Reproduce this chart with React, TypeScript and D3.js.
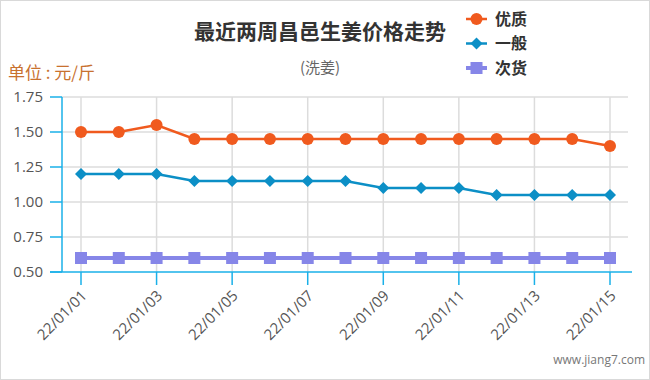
import React, { useEffect, useRef } from "react";
import * as d3 from "d3";

const dates = ["22/01/01","22/01/02","22/01/03","22/01/04","22/01/05","22/01/06","22/01/07","22/01/08","22/01/09","22/01/10","22/01/11","22/01/12","22/01/13","22/01/14","22/01/15"];
const premium = [1.50,1.50,1.55,1.45,1.45,1.45,1.45,1.45,1.45,1.45,1.45,1.45,1.45,1.45,1.40];
const normal = [1.20,1.20,1.20,1.15,1.15,1.15,1.15,1.15,1.10,1.10,1.10,1.05,1.05,1.05,1.05];
const inferior = [0.60,0.60,0.60,0.60,0.60,0.60,0.60,0.60,0.60,0.60,0.60,0.60,0.60,0.60,0.60];
const yTicks = [0.5,0.75,1.0,1.25,1.5,1.75];
const seriesNames = ["优质","一般","次货"];

const W = 650, H = 380;
const FONT = "'Noto Sans CJK SC', 'Open Sans', sans-serif";
const NUMFONT = "'Open Sans', 'Noto Sans', sans-serif";

export default function App() {
  const ref = useRef<SVGSVGElement>(null);
  useEffect(() => {
    const svg = d3.select(ref.current);
    svg.selectAll("*").remove();
    const plot = { left: 62, right: 628, top: 97, bottom: 272 };
    const x = d3.scalePoint<string>().domain(dates).range([81, 610]);
    const y = d3.scaleLinear().domain([0.5, 1.75]).range([plot.bottom, plot.top]);
    const axisColor = "#1ab0e8";

    svg.append("rect").attr("x", 0.5).attr("y", 0.5).attr("width", W - 1).attr("height", H - 1)
      .attr("fill", "#fff").attr("stroke", "#d9d9d9");

    svg.append("g").selectAll("line").data(yTicks.slice(1)).join("line")
      .attr("x1", plot.left).attr("x2", plot.right)
      .attr("y1", d => y(d)).attr("y2", d => y(d))
      .attr("stroke", "#dcdcdc").attr("stroke-width", 1.5);
    const oddDates = dates.filter((_, i) => i % 2 === 0);
    svg.append("g").selectAll("line").data(oddDates).join("line")
      .attr("x1", d => x(d)!).attr("x2", d => x(d)!)
      .attr("y1", plot.top).attr("y2", plot.bottom)
      .attr("stroke", "#dcdcdc").attr("stroke-width", 1.5);

    svg.append("line").attr("x1", plot.left).attr("x2", plot.left).attr("y1", plot.top).attr("y2", plot.bottom)
      .attr("stroke", axisColor).attr("stroke-width", 1.5);
    const yg = svg.append("g");
    yg.selectAll("line").data(yTicks).join("line")
      .attr("x1", 50).attr("x2", plot.left).attr("y1", d => y(d)).attr("y2", d => y(d))
      .attr("stroke", axisColor).attr("stroke-width", 1.5);
    yg.selectAll("text").data(yTicks).join("text")
      .attr("x", 43).attr("y", d => y(d)).attr("dy", "0.35em").attr("text-anchor", "end")
      .attr("font-family", NUMFONT).attr("font-size", 15).attr("fill", "#555")
      .text(d => d3.format(".2f")(d));

    svg.append("line").attr("x1", 50).attr("x2", 632).attr("y1", plot.bottom).attr("y2", plot.bottom)
      .attr("stroke", axisColor).attr("stroke-width", 1.5);
    const xg = svg.append("g");
    xg.selectAll("line").data(oddDates).join("line")
      .attr("x1", d => x(d)!).attr("x2", d => x(d)!).attr("y1", plot.bottom).attr("y2", plot.bottom + 13)
      .attr("stroke", axisColor).attr("stroke-width", 1.5);
    xg.selectAll("text").data(oddDates).join("text")
      .attr("transform", d => `translate(${x(d)! + 3},${plot.bottom + 21}) rotate(-45)`)
      .attr("text-anchor", "end").attr("dy", "0.35em")
      .attr("font-family", NUMFONT).attr("font-size", 15).attr("fill", "#555")
      .text(d => d);

    const colors = ["#f05a1e", "#0c8fc6", "#8686e8"];
    const data = [premium, normal, inferior];
    const line = d3.line<number>().x((_, i) => x(dates[i])!).y(d => y(d));

    const drawMarker = (g: any, k: number, cx: number, cy: number) => {
      if (k === 0) g.append("circle").attr("cx", cx).attr("cy", cy).attr("r", 6).attr("fill", colors[0]);
      else if (k === 1) g.append("path").attr("d", `M${cx},${cy - 6}L${cx + 6},${cy}L${cx},${cy + 6}L${cx - 6},${cy}Z`).attr("fill", colors[1]);
      else g.append("rect").attr("x", cx - 6).attr("y", cy - 6).attr("width", 12).attr("height", 12).attr("fill", colors[2]);
    };

    data.forEach((vals, k) => {
      const g = svg.append("g");
      g.append("path").attr("d", line(vals)!).attr("fill", "none").attr("stroke", colors[k]).attr("stroke-width", k === 2 ? 4 : 2.5);
      vals.forEach((v, i) => drawMarker(g, k, x(dates[i])!, y(v)));
    });

    svg.append("text").attr("x", 320).attr("y", 32).attr("dy", "0.35em").attr("text-anchor", "middle")
      .attr("font-family", FONT).attr("font-size", 21).attr("font-weight", "bold").attr("fill", "#333")
      .text("最近两周昌邑生姜价格走势");
    svg.append("text").attr("x", 320).attr("y", 68).attr("dy", "0.35em").attr("text-anchor", "middle")
      .attr("font-family", FONT).attr("font-size", 15).attr("fill", "#666")
      .text("(洗姜)");
    svg.append("text").attr("x", 8).attr("y", 73).attr("dy", "0.35em")
      .attr("font-family", FONT).attr("font-size", 17).attr("fill", "#c8712f")
      .text("单位 : 元/斤");

    seriesNames.forEach((name, k) => {
      const cy = 19 + k * 24.5;
      const g = svg.append("g");
      g.append("line").attr("x1", 466).attr("x2", 487).attr("y1", cy).attr("y2", cy)
        .attr("stroke", colors[k]).attr("stroke-width", k === 2 ? 4 : 2.5);
      drawMarker(g, k, 476.5, cy);
      g.append("text").attr("x", 495).attr("y", cy).attr("dy", "0.35em")
        .attr("font-family", FONT).attr("font-size", 16).attr("font-weight", "bold").attr("fill", "#333")
        .text(name);
    });

    svg.append("text").attr("x", 645).attr("y", 360).attr("dy", "0.35em").attr("text-anchor", "end")
      .attr("font-family", NUMFONT).attr("font-size", 12).attr("fill", "#777")
      .text("www.jiang7.com");
  }, []);
  return <svg ref={ref} width={W} height={H} style={{ position: "absolute", left: 0, top: 0, background: "#fff" }} />;
}
